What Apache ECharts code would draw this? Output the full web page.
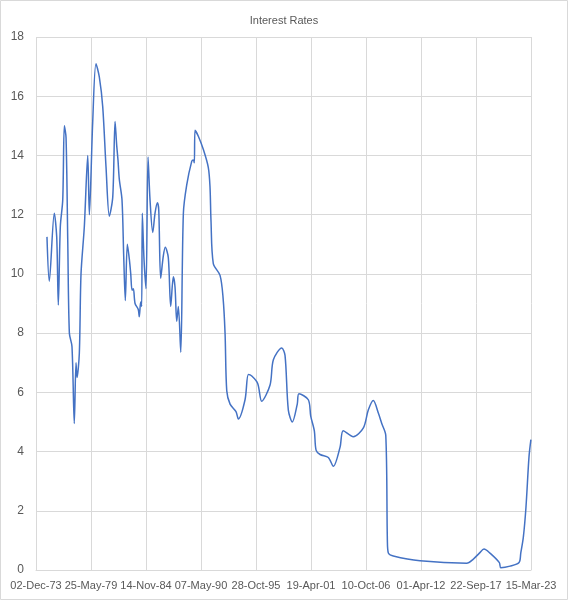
<!DOCTYPE html>
<html><head><meta charset="utf-8">
<script src="https://cdn.jsdelivr.net/npm/echarts@6/dist/echarts.min.js"></script>
<style>html,body{margin:0;padding:0;background:#fff}#c{width:568px;height:600px}</style>
</head><body><div id="c"></div>
<script>
// decimal years (approximate)
const years = [1975.01,1975.24,1975.74,1975.98,1976.14,1976.34,1976.58,1976.74,1976.91,1977.08,1977.24,1977.50,1977.73,1977.90,1978.00,1978.23,1978.40,1978.73,1979.07,1979.23,1979.56,1979.89,1980.22,1980.56,1980.89,1981.22,1981.56,1981.79,1981.95,1982.08,1982.21,1982.48,1982.65,1982.81,1983.01,1983.21,1983.35,1983.48,1983.61,1983.78,1984.10,1984.20,1984.34,1984.44,1984.50,1984.67,1984.87,1985.07,1985.27,1985.54,1985.77,1986.00,1986.14,1986.33,1986.59,1986.79,1987.09,1987.33,1987.59,1987.76,1987.93,1988.09,1988.33,1988.59,1988.92,1989.42,1989.58,1989.68,1989.75,1990.08,1990.58,1991.07,1991.24,1991.34,1991.57,1992.24,1992.54,1992.74,1992.91,1993.24,1993.83,1994.06,1994.73,1995.06,1995.40,1995.99,1996.39,1997.22,1997.55,1998.38,1998.71,1999.04,1999.44,1999.93,2000.10,2001.03,2001.27,2001.63,2001.80,2002.20,2003.02,2003.52,2004.19,2004.51,2005.51,2006.51,2007.00,2007.50,2008.00,2008.34,2008.74,2008.90,2009.00,2009.49,2012.15,2016.80,2017.46,2018.06,2018.52,2019.12,2020.05,2020.19,2021.11,2022.01,2022.18,2022.44,2022.70,2023.00,2023.19];
const rates = [11.25,9.75,12.05,11.25,8.95,11.6,12.5,15.0,14.6,11.1,8.0,7.55,4.95,7.0,6.5,7.3,10.0,11.6,14.0,12.0,15.1,17.1,16.65,15.65,13.6,11.95,12.6,15.15,14.35,13.85,13.2,12.5,10.6,9.1,11.0,10.5,10.0,9.45,9.5,9.0,8.8,8.55,9.05,8.9,12.05,10.5,9.5,13.95,12.5,11.4,12.05,12.4,12.15,9.85,10.6,10.9,10.55,8.9,9.9,9.55,8.4,8.9,7.35,12.05,13.0,13.8,13.85,13.75,14.85,14.65,14.2,13.6,12.95,11.8,10.35,9.95,9.2,8.0,6.05,5.6,5.35,5.1,5.75,6.6,6.55,6.3,5.7,6.25,7.1,7.5,7.25,5.4,5.0,5.6,5.95,5.75,5.2,4.7,4.05,3.9,3.8,3.5,4.15,4.7,4.5,4.8,5.4,5.72,5.3,4.95,4.55,1.0,0.57,0.47,0.31,0.23,0.37,0.57,0.71,0.57,0.25,0.08,0.13,0.25,0.57,1.12,2.13,3.82,4.4];
const startDate = Date.UTC(1973,11,2);
const startYear = 1973.918;
const DAY = 86400000;
const months = ['Jan','Feb','Mar','Apr','May','Jun','Jul','Aug','Sep','Oct','Nov','Dec'];
const data = years.map((y,i)=>[(y-startYear)*365.25, rates[i]]);
function fmt(v){const d=new Date(startDate+Math.round(v)*DAY);
  return String(d.getUTCDate()).padStart(2,'0')+'-'+months[d.getUTCMonth()]+'-'+String(d.getUTCFullYear()%100).padStart(2,'0');}
const chart = echarts.init(document.getElementById('c'));
chart.setOption({
  animation:false,
  title:{text:'Interest Rates',left:'center',top:10,textStyle:{fontSize:11,fontWeight:'normal',color:'#595959',fontFamily:'Liberation Sans'}},
  graphic:[{type:'rect',shape:{x:0.5,y:0.5,width:567,height:599},style:{fill:'none',stroke:'#d9d9d9',lineWidth:1}}],
  grid:{left:36,right:37,top:37,bottom:30},
  xAxis:{type:'value',min:0,max:18000,interval:2000,
    axisLine:{show:true,lineStyle:{color:'#d9d9d9'}},axisTick:{show:false},
    splitLine:{show:true,lineStyle:{color:'#d9d9d9'}},
    axisLabel:{formatter:fmt,color:'#595959',fontSize:11,fontFamily:'Liberation Sans',margin:10}},
  yAxis:{type:'value',min:0,max:18,interval:2,
    axisLine:{show:false},axisTick:{show:false},
    splitLine:{lineStyle:{color:'#d9d9d9'}},
    axisLabel:{color:'#595959',fontSize:12,fontFamily:'Liberation Sans',margin:12}},
  series:[{type:'line',data:data,smooth:0.3,showSymbol:false,lineStyle:{color:'#4472c4',width:1.5}}]
});
</script></body></html>
